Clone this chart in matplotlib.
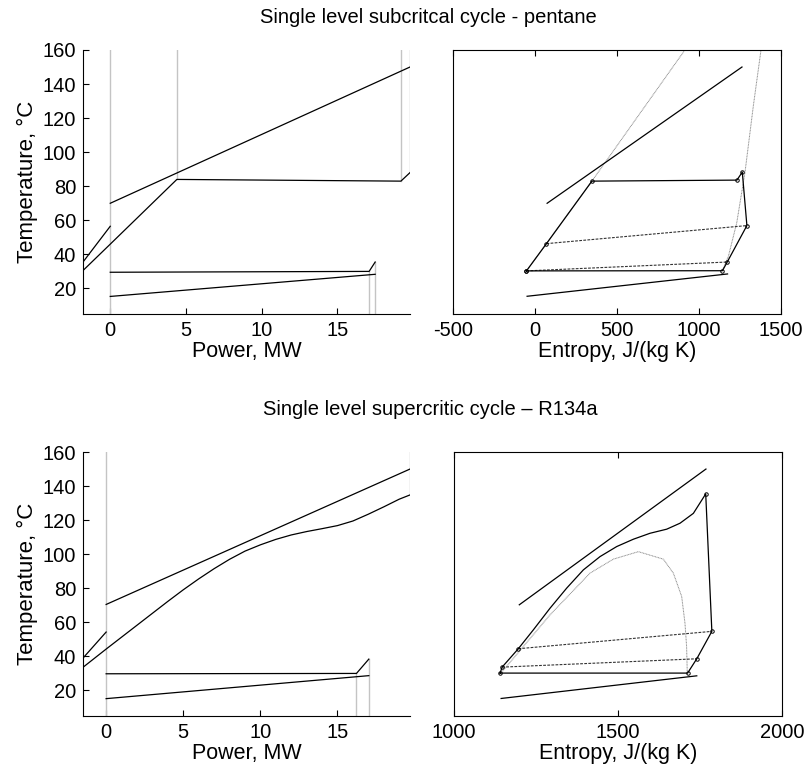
import matplotlib.pyplot as plt

plt.rcParams['font.family'] = ['Liberation Sans', 'DejaVu Sans']
plt.rcParams['axes.unicode_minus'] = False

# ---- pentane, Q-T diagram ----
p_hot_q = [0, 19.8]
p_hot_t = [70, 150]
p_wf_q = [-1.8, 0, 4.4, 19.2, 19.8]
p_wf_t = [30.5, 46, 84, 83, 88]
p_rec_q = [-1.8, 0]
p_rec_t = [35.5, 56.5]
p_cond_q = [0, 17.1, 17.5]
p_cond_t = [29.5, 30, 35.5]
p_cw_q = [0, 17.5]
p_cw_t = [15.3, 28.3]
p_vlines_top = [0, 4.4, 19.2, 19.8]
p_vlines_top_t = [5, 84, 83, 88]
p_vlines_bot = [17.1, 17.5]
p_vlines_bot_t = [30, 35.5]

# ---- pentane, T-s diagram ----
p_cyc_s = [-52, 70, 347, 1231, 1264, 1292, 1172, 1143, -52]
p_cyc_t = [30.3, 46.3, 83, 83.6, 88.3, 56.9, 35.5, 30.4, 30.3]
p_rec1_s = [70, 1292]
p_rec1_t = [46.3, 56.9]
p_rec2_s = [-52, 1172]
p_rec2_t = [30.3, 35.5]
p_hot_s = [74, 1262]
p_hot_ts = [70, 150]
p_cw_s = [-48, 1174]
p_cw_ts = [15.4, 28.5]
p_liq_s = [-52, 347, 914]
p_liq_t = [30.3, 83, 160]
p_vap_s = [1142, 1179, 1230, 1280, 1331, 1378]
p_vap_t = [30.4, 38.8, 58.5, 87.9, 127, 160]

# ---- R134a, Q-T diagram ----
r_hot_q = [0, 19.7]
r_hot_t = [70.5, 150]
r_wf_q = [-1.5, 0, 1, 2, 3, 4, 5, 6, 7, 8, 9, 10, 11, 12, 13, 14, 15, 16, 17, 18, 19, 19.7]
r_wf_t = [33.6, 44.3, 51.3, 58.3, 65.3, 72.3, 79.1, 85.5, 91.5, 97, 101.8, 105.5, 108.7, 111.3,
          113.3, 115, 116.8, 119.5, 123.5, 127.8, 132.3, 134.8]
r_rec_q = [-1.5, 0]
r_rec_t = [39, 54.3]
r_cond_q = [0, 16.23, 17.03]
r_cond_t = [29.8, 30, 38.4]
r_cw_q = [0, 17.03]
r_cw_t = [15.2, 28.7]
r_vlines_top = [0, 19.7]
r_vlines_top_t = [5, 134.8]
r_vlines_bot = [16.23, 17.03]
r_vlines_bot_t = [30, 38.4]

# ---- R134a, T-s diagram ----
r_cyc_s = [1140.5, 1146.6, 1196, 1241.9, 1292.7, 1343.5, 1394.3, 1445.1, 1496, 1546.7, 1597.6,
           1648.4, 1689, 1729.7, 1767.3, 1786, 1740, 1712, 1140.5]
r_cyc_t = [30.2, 33.7, 44.5, 55.6, 68.3, 80.1, 90.8, 98.6, 104.5, 108.8, 112.3,
           114.7, 118.2, 124, 135.4, 54.7, 38.6, 30.2, 30.2]
r_pts_s = [1140.5, 1146.6, 1196, 1767.3, 1786, 1740, 1712]
r_pts_t = [30.2, 33.7, 44.5, 135.4, 54.7, 38.6, 30.2]
r_rec1_s = [1196, 1786]
r_rec1_t = [44.5, 54.7]
r_rec2_s = [1146.6, 1740]
r_rec2_t = [33.7, 38.6]
r_hot_s = [1199, 1768]
r_hot_ts = [70.3, 150]
r_cw_s = [1143.6, 1740]
r_cw_ts = [15.3, 28.6]
r_dome_s = [1145, 1292.7, 1414.6, 1485.7, 1562, 1638, 1668.6, 1694, 1704, 1709, 1711]
r_dome_t = [30.6, 64.4, 88.9, 97.1, 101.5, 97.1, 88.9, 75.2, 59.6, 45.8, 30.6]

ylim = (5, 160)
grey = '#c4c4c4'
dome_c = '#8a8a8a'
rec_style = dict(color='#333333', lw=0.8, ls=(0, (2.5, 1.2)))

fig = plt.figure(figsize=(8.05, 7.69), dpi=100)


def qt_axes(rect, xlim, hot, wf, rec, cond, cw, vtop, vbot):
    ax = fig.add_axes(rect)
    for x, t in zip(*vtop):
        ax.plot([x, x], [t, ylim[1]], color=grey, lw=1)
    for x, t in zip(*vbot):
        ax.plot([x, x], [ylim[0], t], color=grey, lw=1)
    for q, t in (hot, wf, rec, cond, cw):
        ax.plot(q, t, color='black', lw=0.9)
    ax.set_xlim(*xlim)
    ax.set_ylim(*ylim)
    ax.set_xticks([0, 5, 10, 15])
    ax.set_yticks(range(20, 161, 20))
    ax.spines['top'].set_visible(False)
    ax.spines['right'].set_visible(False)
    ax.tick_params(direction='in', length=4, labelsize=14.5, pad=5)
    ax.set_xlabel('Power, MW', fontsize=15.5, labelpad=1)
    ax.set_ylabel('Temperature, \u00b0C', fontsize=16, labelpad=3)
    return ax


def ts_axes(rect, xlim, xticks):
    ax = fig.add_axes(rect)
    ax.set_xlim(*xlim)
    ax.set_ylim(*ylim)
    ax.set_xticks(xticks)
    ax.set_yticks([])
    ax.tick_params(direction='in', length=4, labelsize=14.5, pad=5, top=True)
    ax.set_xlabel('Entropy, J/(kg K)', fontsize=15.5, labelpad=1)
    return ax


# top row: pentane
qt_axes([0.1031, 0.5917, 0.4062, 0.3433], (-1.8, 19.8),
        (p_hot_q, p_hot_t), (p_wf_q, p_wf_t), (p_rec_q, p_rec_t),
        (p_cond_q, p_cond_t), (p_cw_q, p_cw_t),
        (p_vlines_top, p_vlines_top_t), (p_vlines_bot, p_vlines_bot_t))

ax = ts_axes([0.5627, 0.5917, 0.4075, 0.3433], (-500, 1500), [-500, 0, 500, 1000, 1500])
ax.plot(p_liq_s, p_liq_t, color=dome_c, lw=0.7, ls=(0, (1, 0.6)))
ax.plot(p_vap_s, p_vap_t, color=dome_c, lw=0.7, ls=(0, (1, 0.6)))
ax.plot(p_rec1_s, p_rec1_t, **rec_style)
ax.plot(p_rec2_s, p_rec2_t, **rec_style)
ax.plot(p_hot_s, p_hot_ts, color='black', lw=0.9)
ax.plot(p_cw_s, p_cw_ts, color='black', lw=0.9)
ax.plot(p_cyc_s, p_cyc_t, color='black', lw=0.9, marker='o', ms=2.5, mfc='none', mew=0.7)

fig.text(0.532, 0.977, 'Single level subcritcal cycle - pentane', ha='center', va='center', fontsize=14.5)

# bottom row: R134a
qt_axes([0.1031, 0.0689, 0.4062, 0.3433], (-1.5, 19.7),
        (r_hot_q, r_hot_t), (r_wf_q, r_wf_t), (r_rec_q, r_rec_t),
        (r_cond_q, r_cond_t), (r_cw_q, r_cw_t),
        (r_vlines_top, r_vlines_top_t), (r_vlines_bot, r_vlines_bot_t))

ax = ts_axes([0.564, 0.0689, 0.4075, 0.3433], (1000, 2000), [1000, 1500, 2000])
ax.plot(r_dome_s, r_dome_t, color=dome_c, lw=0.7, ls=(0, (1, 0.6)))
ax.plot(r_rec1_s, r_rec1_t, **rec_style)
ax.plot(r_rec2_s, r_rec2_t, **rec_style)
ax.plot(r_hot_s, r_hot_ts, color='black', lw=0.9)
ax.plot(r_cw_s, r_cw_ts, color='black', lw=0.9)
ax.plot(r_cyc_s, r_cyc_t, color='black', lw=0.9)
ax.plot(r_pts_s, r_pts_t, ls='none', color='black', marker='o', ms=2.5, mfc='none', mew=0.7)

fig.text(0.535, 0.467, 'Single level supercritic cycle \u2013 R134a', ha='center', va='center', fontsize=14.5)

fig.savefig('out.png', dpi=100)
